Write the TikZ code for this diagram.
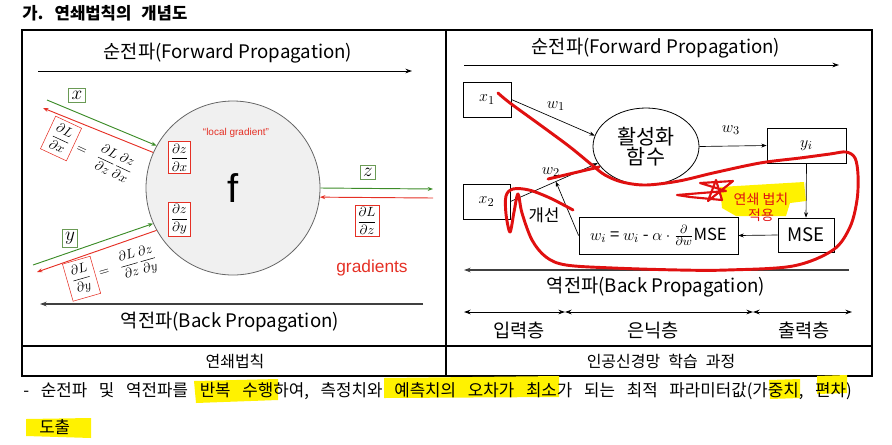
\documentclass[tikz,border=0pt]{standalone}
\usepackage{fontspec}
\setmainfont{Noto Sans CJK KR}
\newfontfamily\arial{Liberation Sans}
\usetikzlibrary{arrows.meta,calc,shapes.geometric}
\definecolor{gr}{HTML}{3C8C28}
\definecolor{gbox}{HTML}{6A9A55}
\definecolor{rd}{HTML}{E53025}
\definecolor{scr}{HTML}{E01010}
\definecolor{hl}{HTML}{FFF200}
\definecolor{dg}{HTML}{404040}
\newcommand{\wsp}[1]{\spaceskip=#1em\relax}
\begin{document}
\begin{tikzpicture}[x=0.75pt,y=-0.75pt,font=\fontsize{14}{16}\selectfont,
  box/.style={draw, line width=0.6pt, inner sep=0pt},
  tip/.style={-{Stealth[length=5pt,width=3.5pt]}},
  stip/.style={-{Stealth[length=4pt,width=3pt]}},
  dtip/.style={{Stealth[length=5pt,width=3.5pt]}-{Stealth[length=5pt,width=3.5pt]}},
  redbox/.style={draw=rd, line width=0.6pt, fill=white, inner sep=1.5pt},
  grnbox/.style={draw=gbox, line width=0.6pt, fill=white, inner sep=2.2pt},
  scribble/.style={scr, line width=2.2pt, line cap=round, line join=round},
  widetext/.style={font=\fontsize{12.6}{14}\selectfont}]
\useasboundingbox (0,0) rectangle (892,444);
% title
\node[anchor=west, inner sep=0pt, font=\fontsize{12.5}{14}\selectfont\bfseries] (title) at (22,13) {\wsp{0.6}가. 연쇄법칙의 개념도};
% table
\draw[line width=0.8pt] (22,30) rectangle (872,376);
\draw[line width=0.8pt] (446,30) -- (446,376);
\draw[line width=0.8pt] (22,346) -- (872,346);
\node[font=\fontsize{12}{14}\selectfont] (capL) at (235,361) {연쇄법칙};
\node[font=\fontsize{12}{14}\selectfont] (capR) at (661,361) {\wsp{0.5}인공신경망 학습 과정};

% ================= LEFT PANEL =================
\node (fwdL) at (228,53) {순전파(Forward Propagation)};
\coordinate (fl1) at (38,71); \coordinate (fl2) at (412,71);
\draw[tip, line width=0.7pt] (fl1) -- (fl2);
\node (bwdL) at (230,322) {역전파(Back Propagation)};
\coordinate (bl1) at (423,304); \coordinate (bl2) at (40,304);
\draw[tip, line width=1.2pt, dg] (bl1) -- (bl2);

\node[circle, draw=gray!80!black, fill=gray!12, line width=0.6pt, minimum size=130.5pt, inner sep=0pt,
      font=\arial\fontsize{30}{30}\selectfont] (fc) at (233,188) {f};
\node[rd, font=\arial\fontsize{7.5}{8}\selectfont] (lg) at (236,133) {“local gradient”};
\node[redbox, font=\fontsize{10}{12}\selectfont] (dzdx) at (179.5,157.5) {$\displaystyle\frac{\partial z}{\partial x}$};
\node[redbox, font=\fontsize{10}{12}\selectfont] (dzdy) at (179.5,219) {$\displaystyle\frac{\partial z}{\partial y}$};

% output z
\coordinate (zend) at (433,189);
\coordinate (gstart) at (433,198);
\draw[stip, gr, line width=0.7pt] (fc.east) -- (zend);
\draw[stip, rd, line width=0.7pt] (gstart) -- (fc.-6.6);
\node[grnbox, font=\fontsize{14}{14}\selectfont] (zb) at (368,172) {$z$};
\node[redbox, font=\fontsize{10}{12}\selectfont] (dLdz) at (367,221) {$\displaystyle\frac{\partial L}{\partial z}$};
\node[rd, font=\arial\fontsize{13}{14}\selectfont] (grad) at (372,268) {gradients};

% input x
\coordinate (xs) at (47,100);
\coordinate (xr) at (43,108);
\draw[stip, gr, line width=0.7pt] (xs) -- (fc.151);
\draw[stip, rd, line width=0.7pt] (fc.156) -- (xr);
\node[grnbox, font=\fontsize{14}{14}\selectfont] (xb) at (77,95) {$x$};
\node[rotate=-25, font=\fontsize{10}{12}\selectfont, inner sep=0pt] (fx) at (90,152)
  {\fcolorbox{rd}{white}{$\displaystyle\frac{\partial L}{\partial x}$}$\displaystyle\;=\;\;\frac{\partial L}{\partial z}\frac{\partial z}{\partial x}$};

% input y
\coordinate (ys) at (33,265);
\coordinate (yr) at (37,272);
\draw[stip, gr, line width=0.7pt] (ys) -- (fc.204);
\draw[stip, rd, line width=0.7pt] (fc.209) -- (yr);
\node[grnbox, font=\fontsize{14}{14}\selectfont] (yb) at (70,238) {$y$};
\node[rotate=16, font=\fontsize{10}{12}\selectfont, inner sep=0pt] (fy) at (112,270)
  {\fcolorbox{rd}{white}{$\displaystyle\frac{\partial L}{\partial y}$}$\displaystyle\;=\;\;\frac{\partial L}{\partial z}\frac{\partial z}{\partial y}$};

% ================= RIGHT PANEL =================
\node (fwdR) at (656,48) {순전파(Forward Propagation)};
\coordinate (fr1) at (464,65); \coordinate (fr2) at (839,65);
\draw[tip, line width=0.7pt] (fr1) -- (fr2);

\node[box, minimum width=36pt, minimum height=26.25pt, font=\fontsize{13}{13}\selectfont] (x1) at (487,99.5) {$x_1$};
\node[box, minimum width=35.25pt, minimum height=26.25pt, font=\fontsize{13}{13}\selectfont] (x2) at (486.5,201.5) {$x_2$};
\node[ellipse, draw, line width=0.6pt, minimum width=79.5pt, minimum height=57.75pt, inner sep=0pt,
      font=\fontsize{15.5}{17}\selectfont, align=center] (act) at (646,146.5) {활성화\\[-2pt]함수};
\node[box, minimum width=59.25pt, minimum height=26.25pt, font=\fontsize{13}{13}\selectfont] (yi) at (806.5,145.5) {$y_i$};
\node[box, minimum width=42pt, minimum height=25.5pt] (mse) at (806,235) {MSE};
\node[box, minimum width=119.25pt, minimum height=27.75pt, font=\fontsize{12.5}{14}\selectfont] (upd) at (658.5,235.5)
  {$w_i$ = $w_i$ - $\alpha\cdot\frac{\partial}{\partial w}$MSE};

\draw[stip, line width=0.5pt] (x1.east) -- (act.168);
\draw[stip, line width=0.5pt] (x2.east) -- (act.199);
\draw[stip, line width=0.5pt] (act.east) -- (yi.west);
\draw[stip, line width=0.5pt] (yi.south) -- (mse.north);
\draw[stip, line width=0.5pt] (mse.west) -- (upd.east);
\coordinate (onw2) at ($(x2.east)!0.52!(act.199)$);
\draw[stip, line width=0.5pt] (upd.west) -- (onw2);

\node[font=\fontsize{13}{13}\selectfont] (w1) at (556,106) {$w_1$};
\node[font=\fontsize{13}{13}\selectfont] (w2) at (551,172) {$w_2$};
\node[font=\fontsize{13}{13}\selectfont] (w3) at (731,130) {$w_3$};
\node[font=\fontsize{12.5}{14}\selectfont] (gs) at (544,215) {개선};

\coordinate (br1) at (849,270); \coordinate (br2) at (464,270);
\draw[tip, line width=1.2pt, dg] (br1) -- (br2);
\node (bwdR) at (656,287) {역전파(Back Propagation)};

\coordinate (d0) at (464,312); \coordinate (d1) at (565,312);
\coordinate (d2) at (753,312); \coordinate (d3) at (852,312);
\draw[dtip, line width=0.7pt] (d0) -- (d1);
\draw[dtip, line width=0.7pt] (d1) -- (d2);
\draw[dtip, line width=0.7pt] (d2) -- (d3);
\node (l1) at (519,330) {입력층};
\node (l2) at (653,330) {은닉층};
\node (l3) at (804,330) {출력층};

% ---- hand annotation ----
\fill[hl] (720,187) -- (804,182) -- (806,201) -- (790,203) -- (786,216) -- (736,216) -- (722,208) -- cycle;
\node[scr, font=\fontsize{10.5}{12}\selectfont, align=center] (chain) at (761,207) {연쇄 법치\\[0pt]적용};
\draw[scribble] plot[smooth, tension=0.55] coordinates {
 (498,93) (510,103) (543,127) (570,147) (592,165) (605,175) (622,182) (646,185) (679,181)
 (713,173) (760,163) (800,158) (830,154) (846,152) (855,158) (858,175) (857,200) (850,227)
 (833,250) (793,266) (727,270) (679,270) (613,268) (566,265) (546,257) (532,240) (522,213)
 (518,194) (514,212) (510,232) (506,214) (506,196) (513,189) (529,190) (550,198) (573,210)};
\draw[scribble] (548,179) -- (599,167);
\draw[scr, line width=1.6pt, line join=round, line cap=round]
  (677,195) -- (726,191) -- (700,183) -- (733,181) -- (708,201) -- (716,180) -- (722,200) -- (690,197) -- cycle;

% ---- bullet text ----
\fill[hl] (194,381) -- (278,379) -- (278,400) -- (196,403) -- cycle;
\fill[hl] (384,378) -- (559,376) -- (559,397) -- (384,398) -- cycle;
\fill[hl] (769,380) -- (800,379) -- (800,398) -- (770,399) -- cycle;
\fill[hl] (817,376) -- (847,375) -- (847,393) -- (817,394) -- cycle;
\fill[hl] (26,419) -- (91,418) -- (91,438) -- (26,436) -- cycle;
\node[anchor=west, widetext, inner sep=0pt] (bul) at (23,391)
  {\wsp{0.7}- 순전파 및 역전파를 반복 수행하여, 측정치와 예측치의 오차가 최소가 되는 최적 파라미터값(가중치, 편차)};
\node[anchor=west, widetext, inner sep=0pt] (bul2) at (39,427) {도출};
\end{tikzpicture}
\end{document}
